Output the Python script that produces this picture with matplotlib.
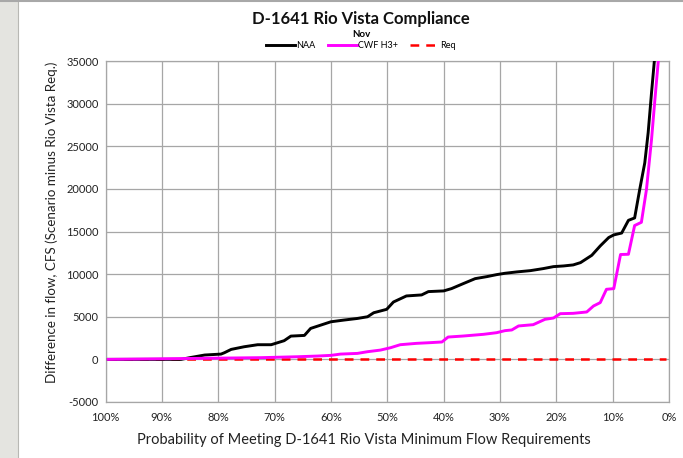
import matplotlib
matplotlib.use("Agg")
import matplotlib.pyplot as plt
from matplotlib.patches import Rectangle
from matplotlib.lines import Line2D

plt.rcParams['font.family'] = ['Lato', 'DejaVu Sans']

# Exceedance probability (%) and values (cfs)
naa_p = [99.5, 86.6, 84.8, 82.4, 79.5, 78.9, 77.7, 75.4, 73.0, 70.6, 68.3, 67.1, 64.7,
         63.6, 61.8, 60.0, 57.7, 55.3, 53.5, 52.4, 50.1, 48.9, 46.6, 43.9, 42.7, 40.0,
         38.6, 36.5, 34.4, 32.3, 30.6, 29.1, 27.0, 24.6, 22.3, 20.5, 18.7, 17.0, 15.7,
         13.7, 12.2, 10.7, 9.8, 8.4, 7.2, 6.1, 5.2, 4.3, 3.7, 3.1, 2.6, 2.2]
naa_v = [0, 0, 230, 510, 620, 780, 1170, 1480, 1720, 1720, 2190, 2730, 2810,
         3630, 4020, 4410, 4610, 4800, 5000, 5470, 5870, 6730, 7440, 7560, 7950, 8030,
         8300, 8890, 9470, 9710, 9940, 10100, 10260, 10410, 10650, 10880, 10960, 11080, 11350,
         12210, 13310, 14290, 14600, 14820, 16310, 16590, 19920, 23050, 26580, 31290, 35000, 38500]

cwf_p = [99.5, 72.4, 65.9, 62.4, 60.0, 58.3, 55.3, 53.5, 51.2, 49.4, 47.7, 44.8, 42.4,
         40.3, 39.2, 36.5, 32.9, 30.6, 29.1, 27.9, 26.7, 24.1, 22.0, 20.5, 19.3, 17.0,
         14.6, 13.4, 12.2, 11.1, 9.8, 8.6, 7.2, 6.1, 4.9, 4.0, 3.1, 2.5, 1.9, 1.5]
cwf_v = [0, 200, 310, 390, 470, 620, 700, 900, 1090, 1370, 1720, 1880, 1960,
         2040, 2620, 2740, 2940, 3130, 3370, 3450, 3920, 4070, 4700, 4850, 5360, 5400,
         5560, 6260, 6660, 8220, 8300, 12300, 12330, 15700, 16080, 19920, 25800, 30500, 35000, 38500]

req_p = [99.5, 0.5]
req_v = [0, 0]

x_ticks = [100, 90, 80, 70, 60, 50, 40, 30, 20, 10, 0]
y_ticks = [-5000, 0, 5000, 10000, 15000, 20000, 25000, 30000, 35000]

fig = plt.figure(figsize=(6.83, 4.58), dpi=100)
# window chrome
fig.patches.append(Rectangle((0, 0), 17.5 / 683, 1, transform=fig.transFigure,
                             facecolor='#e4e4e0', edgecolor='none', zorder=0))
fig.lines.append(Line2D([17.5 / 683, 17.5 / 683], [0, 1], transform=fig.transFigure,
                        color='#b8b8b4', lw=0.8))
fig.lines.append(Line2D([0, 1], [1 - 1 / 458, 1 - 1 / 458], transform=fig.transFigure,
                        color='#a8a8a8', lw=1.5))

ax = fig.add_axes([105.5 / 683, 1 - 402 / 458, (669 - 105.5) / 683, (402 - 61) / 458])
ax.plot(req_p, req_v, color='#ff0000', lw=1.8, dashes=(3.5, 2.8), zorder=3, label='Req')
ax.plot(naa_p, naa_v, color='black', lw=2.1, zorder=4, label='NAA')
ax.plot(cwf_p, cwf_v, color='#ff00ff', lw=2.1, zorder=4, label='CWF H3+')

ax.set_xlim(100, 0)
ax.set_ylim(-5000, 35000)
ax.set_xticks(x_ticks)
ax.set_xticklabels([f'{t}%' for t in x_ticks])
ax.set_yticks(y_ticks)
ax.set_yticklabels([str(t) for t in y_ticks])
ax.grid(True, color='#a6a6a6', lw=0.9)
ax.set_axisbelow(True)
for s in ax.spines.values():
    s.set_color('#a6a6a6')
    s.set_linewidth(0.9)
ax.tick_params(length=0, labelsize=8, colors='#222222', pad=7)
ax.tick_params(axis='y', pad=5)

fig.text(364 / 683, 1 - 440 / 458,
         'Probability of Meeting D-1641 Rio Vista Minimum Flow Requirements',
         ha='center', va='center', fontsize=10.5, color='#222222')
fig.text(52 / 683, 1 - 222 / 458,
         'Difference in flow, CFS (Scenario minus Rio Vista Req.)',
         ha='center', va='center', rotation=90, fontsize=9.6, color='#222222')

fig.text(361 / 683, 1 - 19 / 458, 'D-1641 Rio Vista Compliance', ha='center', va='center',
         fontsize=12, fontweight='bold', color='#111111')

handles, labels = ax.get_legend_handles_labels()
order = [1, 2, 0]
leg = fig.legend([handles[i] for i in order], [labels[i] for i in order],
                 loc='center', bbox_to_anchor=(361 / 683, 1 - 40 / 458), ncol=3, frameon=False,
                 fontsize=6.5, title='Nov', title_fontproperties={'size': 7, 'weight': 'bold'},
                 handlelength=3.2, handletextpad=0.1, columnspacing=1.4,
                 borderpad=0, labelspacing=0)
leg._legend_box.sep = 1

fig.savefig('out.png', dpi=100, facecolor='white')
